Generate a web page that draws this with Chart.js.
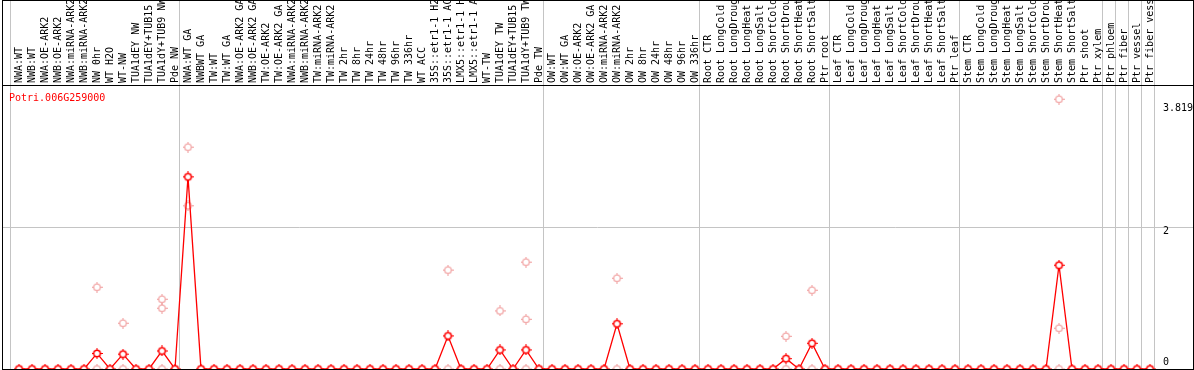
<!DOCTYPE html>
<html>
<head>
    <title>Potri.006G259000</title>
    <script src="https://cdn.jsdelivr.net/npm/chart.js@4.4.1/dist/chart.umd.min.js"></script>
    <style>
        body {
            margin: 0;
            background: #fff;
        }
        #exprChart {
            display: block;
        }
    </style>
</head>
<body>
    <canvas id="exprChart" width="1194" height="370"></canvas>

    <script>
        const geneName = 'Potri.006G259000';

        const samples = [
            'NWA:WT', 'NWB:WT', 'NWA:OE-ARK2', 'NWB:OE-ARK2', 'NWA:miRNA-ARK2', 'NWB:miRNA-ARK2',
            'NW 0hr', 'WT H2O', 'WT-NW', 'TUA1dEY NW', 'TUA1dEY+TUB15 NW', 'TUA1dY+TUB9 NW', 'Pde NW',
            'NWA:WT GA', 'NWBWT GA', 'TW:WT', 'TW:WT GA', 'NWA:OE-ARK2 GA', 'NWB:OE-ARK2 GA',
            'TW:OE-ARK2', 'TW:OE-ARK2 GA', 'NWA:miRNA-ARK2 GA', 'NWB:miRNA-ARK2 GA', 'TW:miRNA-ARK2', 'TW:miRNA-ARK2 GA',
            'TW 2hr', 'TW 8hr', 'TW 24hr', 'TW 48hr', 'TW 96hr', 'TW 336hr',
            'WT ACC', '35S::etr1-1 H2O', '35S::etr1-1 ACC', 'LMX5::etr1-1 H2O', 'LMX5::etr1-1 ACC',
            'WT-TW', 'TUA1dEY TW', 'TUA1dEY+TUB15 TW', 'TUA1dY+TUB9 TW', 'Pde TW',
            'OW:WT', 'OW:WT GA', 'OW:OE-ARK2', 'OW:OE-ARK2 GA', 'OW:miRNA-ARK2', 'OW:miRNA-ARK2 GA',
            'OW 2hr', 'OW 8hr', 'OW 24hr', 'OW 48hr', 'OW 96hr', 'OW 336hr',
            'Root CTR', 'Root LongCold', 'Root LongDrought', 'Root LongHeat', 'Root LongSalt',
            'Root ShortCold', 'Root ShortDrought', 'Root ShortHeat', 'Root ShortSalt', 'Ptr root',
            'Leaf CTR', 'Leaf LongCold', 'Leaf LongDrought', 'Leaf LongHeat', 'Leaf LongSalt',
            'Leaf ShortCold', 'Leaf ShortDrought', 'Leaf ShortHeat', 'Leaf ShortSalt', 'Ptr leaf',
            'Stem CTR', 'Stem LongCold', 'Stem LongDrought', 'Stem LongHeat', 'Stem LongSalt',
            'Stem ShortCold', 'Stem ShortDrought', 'Stem ShortHeat', 'Stem ShortSalt', 'Ptr shoot',
            'Ptr xylem', 'Ptr phloem', 'Ptr fiber', 'Ptr vessel', 'Ptr fiber vessel'
        ];

        // index of the last sample before each grey separator (-1 = before the first one)
        const groupEnds = [-1, 12, 40, 52, 62, 72, 83, 84, 85, 86, 87];

        // red line: one value per sample
        const meanValues = [
            0, 0, 0, 0, 0, 0, 0.22, 0, 0.21, 0, 0, 0.255, 0,
            2.72, 0, 0, 0, 0, 0, 0, 0, 0, 0, 0, 0,
            0, 0, 0, 0, 0, 0,
            0, 0, 0.468, 0, 0, 0, 0.27, 0, 0.27, 0,
            0, 0, 0, 0, 0, 0.64,
            0, 0, 0, 0, 0, 0,
            0, 0, 0, 0, 0, 0, 0.146, 0, 0.364, 0,
            0, 0, 0, 0, 0, 0, 0, 0, 0, 0,
            0, 0, 0, 0, 0, 0, 0, 1.469, 0, 0,
            0, 0, 0, 0, 0
        ];

        // pale circles: single replicates (sample index, value)
        const repSample = [6, 6, 8, 8, 11, 11, 11, 13, 13, 33, 33, 37, 37, 39, 39, 39, 46, 46, 59, 59, 61, 61, 80, 80, 80];
        const repValue = [1.158, 0, 0.648, 0, 0.988, 0.86, 0, 3.14, 2.31, 1.40, 0, 0.822, 0, 1.512, 0.704, 0, 1.285, 0, 0.463, 0, 1.115, 0, 3.819, 0.577, 0];

        const yTicks = [0, 2, 3.819];
        const yMax = 4.02;

        // how far each right-hand label sits from its tick, in px (negative = above)
        const yLabelShift = { 0: -7, 2: 4, 3.819: 9.5 };

        const xMin = -17 / 13;
        const xMax = xMin + 1191 / 13;

        function makeMarker(color, ringWidth, fill) {
            const c = document.createElement('canvas');
            c.width = 11;
            c.height = 11;
            const g = c.getContext('2d');
            g.strokeStyle = color;
            g.lineWidth = ringWidth;
            g.beginPath();
            g.arc(5.5, 5.5, 3.3, 0, Math.PI * 2);
            if (fill) {
                g.fillStyle = fill;
                g.fill();
            }
            g.stroke();
            g.lineWidth = 1;
            g.beginPath();
            g.moveTo(5.5, 0); g.lineTo(5.5, 2);
            g.moveTo(5.5, 9); g.lineTo(5.5, 11);
            g.moveTo(0, 5.5); g.lineTo(2, 5.5);
            g.moveTo(9, 5.5); g.lineTo(11, 5.5);
            g.stroke();
            return c;
        }

        const meanMarker = makeMarker('#ff0000', 1.6, '#ffffff');
        const repMarker = makeMarker('#f09a9a', 1.1, null);

        function noPadding(scale) {
            scale.paddingLeft = 0;
            scale.paddingRight = 0;
            scale.paddingTop = 0;
            scale.paddingBottom = 0;
        }

        const frame = {
            id: 'frame',
            afterDraw(chart) {
                const { ctx, chartArea } = chart;
                ctx.save();
                ctx.strokeStyle = '#000';
                ctx.lineWidth = 1;
                ctx.strokeRect(chartArea.left + 0.5, 0.5, chartArea.right - chartArea.left, chartArea.bottom);
                ctx.restore();
            }
        };

        const geneLabel = {
            id: 'geneLabel',
            afterDatasetsDraw(chart) {
                const { ctx, chartArea } = chart;
                ctx.save();
                ctx.fillStyle = '#ff0000';
                ctx.font = '10px "DejaVu Sans Mono"';
                ctx.textBaseline = 'alphabetic';
                ctx.fillText(geneName, chartArea.left + 7, chartArea.top + 16);
                ctx.restore();
            }
        };

        const monoFont = { family: '"DejaVu Sans Mono", monospace', size: 10 };

        const ctx = document.getElementById('exprChart').getContext('2d');
        const exprChart = new Chart(ctx, {
            type: 'line',
            data: {
                datasets: [{
                    label: 'mean',
                    data: samples.map((s, i) => ({ x: i, y: meanValues[i] })),
                    borderColor: '#ff0000',
                    borderWidth: 1.3,
                    tension: 0,
                    pointStyle: meanMarker,
                    pointRadius: 5,
                    clip: false,
                    order: 0
                }, {
                    label: 'replicates',
                    data: repSample.map((s, k) => ({ x: s, y: repValue[k] })),
                    showLine: false,
                    pointStyle: repMarker,
                    pointRadius: 5,
                    clip: false,
                    order: 1
                }]
            },
            options: {
                responsive: false,
                animation: false,
                devicePixelRatio: 1,
                events: [],
                layout: { autoPadding: false, padding: { left: 2, right: 1, top: 0, bottom: 1 } },
                plugins: {
                    legend: { display: false },
                    tooltip: { enabled: false }
                },
                scales: {
                    x: {
                        type: 'linear',
                        position: 'top',
                        weight: 1,
                        min: xMin,
                        max: xMax,
                        afterBuildTicks: scale => { scale.ticks = samples.map((s, i) => ({ value: i })); },
                        afterFit: scale => { scale.height = 85; noPadding(scale); },
                        grid: { display: false, drawTicks: false },
                        border: { display: true, color: '#000' },
                        ticks: {
                            autoSkip: false,
                            minRotation: 90,
                            maxRotation: 90,
                            padding: 2,
                            labelOffset: 12,
                            color: '#000',
                            font: monoFont,
                            callback: value => samples[value]
                        }
                    },
                    xg: {
                        type: 'linear',
                        position: 'top',
                        weight: 0,
                        min: xMin,
                        max: xMax,
                        afterBuildTicks: scale => { scale.ticks = groupEnds.map(k => ({ value: k + 0.38 })); },
                        afterFit: scale => { scale.height = 0; noPadding(scale); },
                        ticks: { display: false },
                        grid: { color: '#c4c4c4', tickLength: 85, drawTicks: true },
                        border: { display: false }
                    },
                    y: {
                        type: 'linear',
                        position: 'right',
                        min: 0,
                        max: yMax,
                        afterBuildTicks: scale => { scale.ticks = yTicks.map(v => ({ value: v })); },
                        afterFit: scale => { scale.width = 0; noPadding(scale); },
                        grid: {
                            drawTicks: false,
                            color: c => (c.tick && c.tick.value === 2) ? '#c4c4c4' : 'rgba(0,0,0,0)'
                        },
                        border: { display: false },
                        ticks: {
                            mirror: true,
                            crossAlign: 'far',
                            padding: 0,
                            color: '#000',
                            font: c => {
                                const shift = c.tick ? (yLabelShift[c.tick.value] || 0) : 0;
                                return { family: monoFont.family, size: 10, lineHeight: Math.max(2 * Math.abs(shift), 1) + 'px' };
                            },
                            callback: value => {
                                const text = String(value);
                                return yLabelShift[value] < 0 ? [text, ''] : ['', text];
                            }
                        }
                    }
                }
            },
            plugins: [frame, geneLabel]
        });
    </script>
</body>
</html>
